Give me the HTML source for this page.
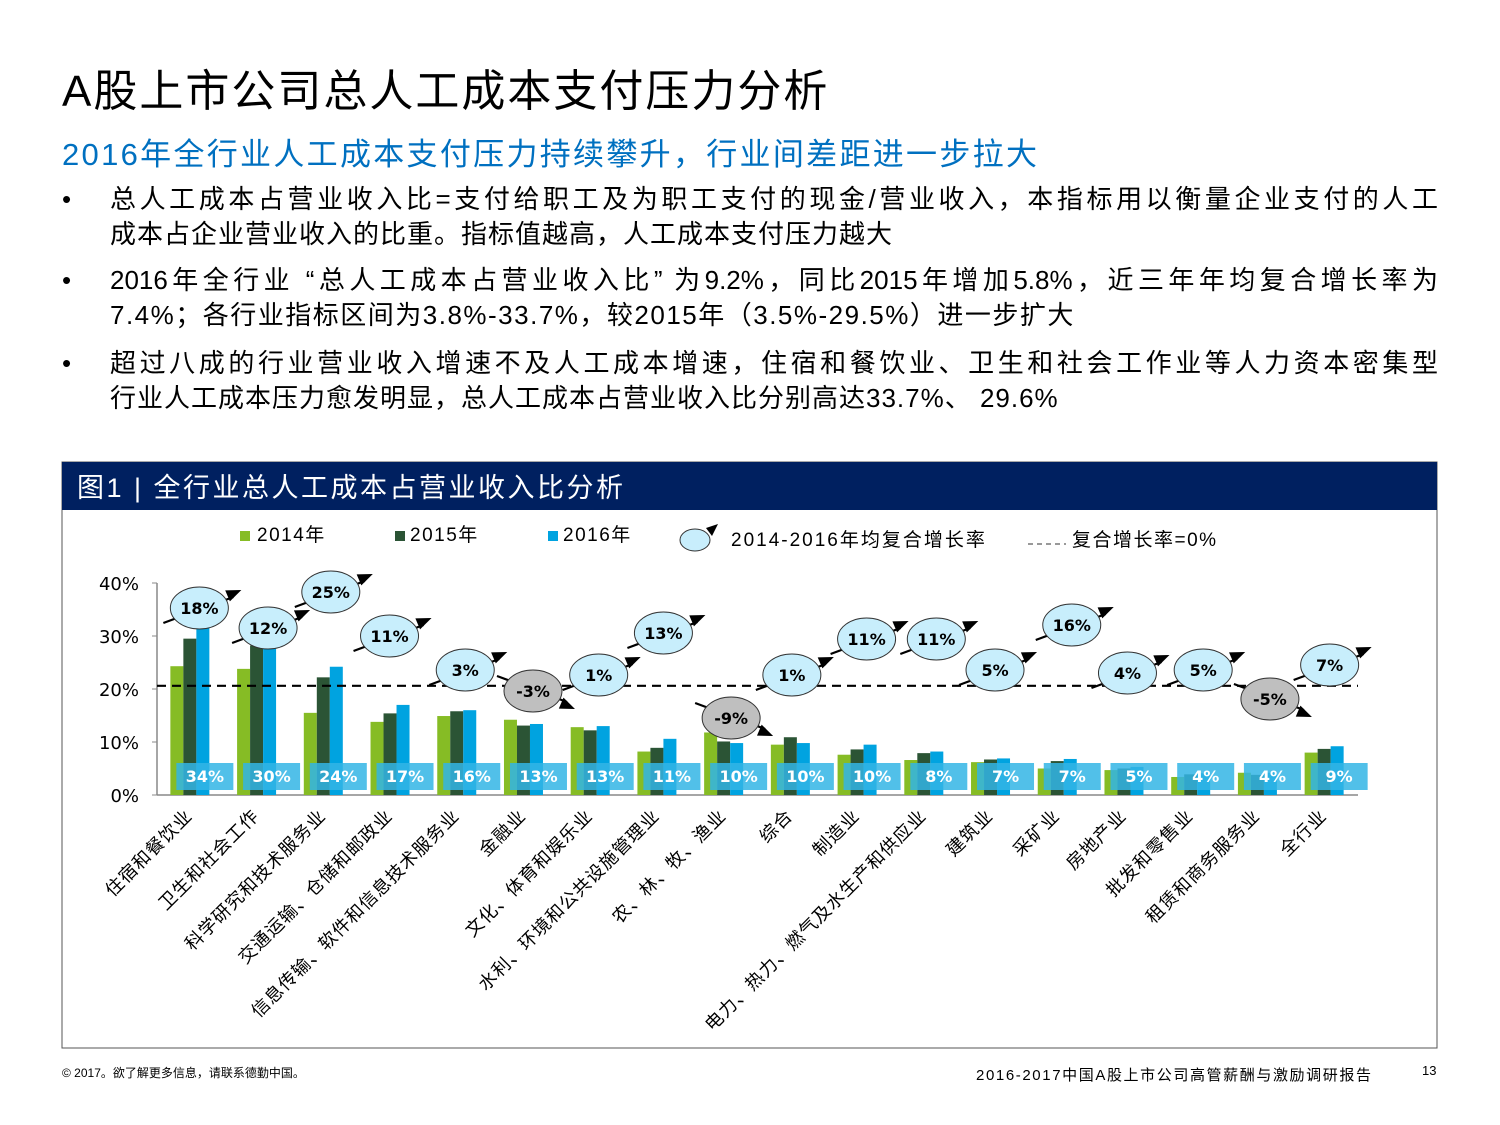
<!DOCTYPE html>
<html><head><meta charset="utf-8">
<style>
body{margin:0;width:1500px;height:1125px;background:#fff;position:relative;overflow:hidden;font-family:"Liberation Sans","Noto Sans CJK SC",sans-serif;color:#000}
.abs{position:absolute}
#title{left:62px;top:55px;font-size:44px;letter-spacing:2px}
#sub{left:62px;top:129px;font-size:31px;color:#0070c0;letter-spacing:2.3px}
.b{left:62px;font-size:26px;line-height:35px;width:1380px}
.b .dot{position:absolute;left:0;top:0}
.b .l{margin-left:48px;display:block;width:1328px;white-space:nowrap}
.b .j{text-align:justify;text-align-last:justify}
</style></head><body>
<div class="abs" id="title">A股上市公司总人工成本支付压力分析</div>
<div class="abs" id="sub">2016年全行业人工成本支付压力持续攀升，行业间差距进一步拉大</div>
<div class="abs b" style="top:182px"><span class="dot">•</span><span class="l j">总人工成本占营业收入比=支付给职工及为职工支付的现金/营业收入，本指标用以衡量企业支付的人工</span><span class="l" style="letter-spacing:1px">成本占企业营业收入的比重。指标值越高，人工成本支付压力越大</span></div>
<div class="abs b" style="top:263px"><span class="dot">•</span><span class="l j">2016年全行业 “总人工成本占营业收入比” 为9.2%，同比2015年增加5.8%，近三年年均复合增长率为</span><span class="l" style="letter-spacing:1.5px">7.4%；各行业指标区间为3.8%-33.7%，较2015年（3.5%-29.5%）进一步扩大</span></div>
<div class="abs b" style="top:346px"><span class="dot">•</span><span class="l j">超过八成的行业营业收入增速不及人工成本增速，住宿和餐饮业、卫生和社会工作业等人力资本密集型</span><span class="l" style="letter-spacing:1px">行业人工成本压力愈发明显，总人工成本占营业收入比分别高达33.7%、 29.6%</span></div>

<svg class="abs" style="left:0;top:0" width="1500" height="1125">
<rect x="62" y="462" width="1375" height="586" fill="none" stroke="#555" stroke-width="1"/>
<rect x="62" y="462" width="1375" height="48" fill="#002060"/>
<text x="77" y="497" fill="#fff" font-size="27" letter-spacing="2.5">图1 | 全行业总人工成本占营业收入比分析</text>
<g id="legend" font-size="19" letter-spacing="1.5">
<rect x="240" y="531" width="10" height="10" fill="#86bc25"/><text x="257" y="541">2014年</text>
<rect x="395" y="531" width="10" height="10" fill="#2b5435"/><text x="410" y="541">2015年</text>
<rect x="548" y="531" width="10" height="10" fill="#00a3e0"/><text x="563" y="541">2016年</text>
<ellipse cx="695" cy="540" rx="15" ry="11" fill="#c8eefc" stroke="#333"/>
<path d="M706 528 L718 524 L712 536Z" fill="#000"/>
<text x="731" y="546" letter-spacing="2">2014-2016年均复合增长率</text>
<line x1="1028" y1="544" x2="1066" y2="544" stroke="#333" stroke-dasharray="5,4"/>
<text x="1072" y="546">复合增长率=0%</text>
</g>
<g id="plot"></g>
</svg>

<div class="abs" style="left:62px;top:1064px;font-size:12px">© 2017。欲了解更多信息，请联系德勤中国。</div>
<div class="abs" style="left:976px;top:1064px;font-size:15px;letter-spacing:1.6px">2016-2017中国A股上市公司高管薪酬与激励调研报告</div>
<div class="abs" style="left:1422px;top:1063px;font-size:13px">13</div>

<script>
const categories=["住宿和餐饮业","卫生和社会工作","科学研究和技术服务业","交通运输、仓储和邮政业","信息传输、软件和信息技术服务业","金融业","文化、体育和娱乐业","水利、环境和公共设施管理业","农、林、牧、渔业","综合","制造业","电力、热力、燃气及水生产和供应业","建筑业","采矿业","房地产业","批发和零售业","租赁和商务服务业","全行业"];
const v2014=[24.3,23.8,15.5,13.8,14.9,14.2,12.8,8.2,11.8,9.5,7.6,6.6,6.2,5.0,4.7,3.4,4.2,8.0];
const v2015=[29.5,28.2,22.2,15.4,15.8,13.1,12.2,8.9,10.1,10.9,8.6,7.9,6.7,6.4,5.0,3.9,3.8,8.7];
const v2016=[33.7,29.6,24.2,17.0,16.0,13.4,13.0,10.6,9.8,9.8,9.5,8.2,6.9,6.8,5.3,4.1,4.2,9.2];
const growth=[18,12,25,11,3,-3,1,13,-9,1,11,11,5,16,4,5,-5,7];
const yTicks=[0,10,20,30,40];
const zeroGrowthLevel=20.6;
// bubble layout (placement offsets, not data)
const bubbleDx=[9,11,7,-1,8,9,8,6,7,1,9,12,4,14,3,12,12,5];
const bubbleY=[608,628,592,636,670,691,675,633,718,675,639,639,670,625,673,670,699,665];

const NS="http://www.w3.org/2000/svg";
const plot=document.getElementById('plot');
function el(t,a,p){const e=document.createElementNS(NS,t);for(const k in a)e.setAttribute(k,a[k]);(p||plot).appendChild(e);return e;}
const x0=157,x1=1358,y0=795,yTop=583;
const step=(x1-x0)/categories.length;
const xc=i=>x0+step*(i+0.5);
const ys=v=>y0-(v/40)*(y0-yTop);

let ax=el('line',{x1:x0,y1:yTop,x2:x0,y2:y0,stroke:'#888','stroke-width':1.5});


let bx=el('line',{x1:x0,y1:y0,x2:x1,y2:y0,stroke:'#888','stroke-width':1.5});


yTicks.forEach(t=>{
  el('line',{x1:x0-5,y1:ys(t),x2:x0,y2:ys(t),stroke:'#888'});
  const tx=el('text',{x:139,y:ys(t)+7,'text-anchor':'end','font-size':18,'font-family':'"DejaVu Sans",sans-serif'});
  tx.textContent=t+'%';
  
  
});

const cols=['#86bc25','#2b5435','#00a3e0'];
const series=[v2014,v2015,v2016];
const offs=[-20,-7,6];
categories.forEach((c,i)=>{
  series.forEach((s,k)=>{
    const r=el('rect',{x:xc(i)+offs[k],y:ys(s[i]),width:13,height:y0-ys(s[i]),fill:cols[k]});
    
    
  });
});
let dl=el('line',{x1:x0,y1:ys(zeroGrowthLevel),x2:x1,y2:ys(zeroGrowthLevel),stroke:'#000','stroke-width':2.2,'stroke-dasharray':'9,6'});



categories.forEach((c,i)=>{
  const bxr=el('rect',{x:xc(i)-14,y:763,width:57,height:27,fill:'#33b5e5','fill-opacity':0.85});
  
  
  const t=el('text',{x:xc(i)+14.5,y:782,'text-anchor':'middle',fill:'#fff','font-size':16,'font-weight':'bold','font-family':'"DejaVu Sans",sans-serif'});
  t.textContent=Math.round(v2016[i])+'%';
  
  
  const lb=el('text',{x:0,y:0,'text-anchor':'end','font-size':18,'letter-spacing':1,transform:`translate(${xc(i)+3},${817}) rotate(-45)`});
  lb.textContent=c;
  
  
});

growth.forEach((g,i)=>{
  const cx=xc(i)+bubbleDx[i], cy=bubbleY[i];
  const neg=g<0;
  const s=neg?1:-1;
  const sx=cx-36, sy=cy-s*15, ex=cx+42, ey=cy+s*18;
  el('line',{x1:sx,y1:sy,x2:ex-8,y2:ey-s*7,stroke:'#000','stroke-width':2.2});
  const dx=ex-sx, dy=ey-sy, L=Math.hypot(dx,dy), ux=dx/L, uy=dy/L;
  const bx1=ex-ux*15, by1=ey-uy*15;
  el('path',{d:`M${ex} ${ey} L${bx1-uy*6} ${by1+ux*6} L${bx1+uy*6} ${by1-ux*6}Z`,fill:'#000'});
  const e=el('ellipse',{cx:cx,cy:cy,rx:29,ry:21,fill:neg?'#bfbfbf':'#c8eefc',stroke:'#333','stroke-width':1});
  
  
  const t=el('text',{x:cx,y:cy+6,'text-anchor':'middle','font-size':16,'font-weight':'bold','font-family':'"DejaVu Sans",sans-serif'});
  t.textContent=g+'%';
  
  
});
</script>
</body></html>
